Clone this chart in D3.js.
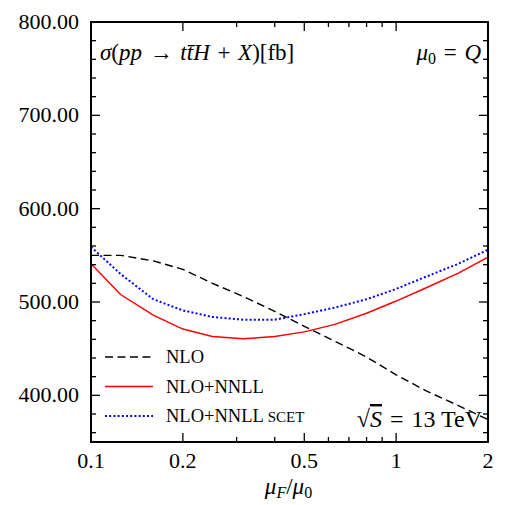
<!doctype html>
<html>
<head>
<meta charset="utf-8"/>
<title>ttH scale dependence</title>
<script src="https://d3js.org/d3.v7.min.js"></script>
<style>
body { margin:0; background:#fff; }
svg text { font-family: "Liberation Serif", serif; fill:#000; }
</style>
</head>
<body>
<script>
// mu_F / mu_0 sampled points
var muF = [0.1, 0.125, 0.16, 0.2, 0.25, 0.315, 0.4, 0.5, 0.63, 0.8, 1.0, 1.25, 1.6, 2.0];
var nlo       = [550, 550, 544, 535, 520, 506, 490, 474, 458, 441, 422, 405, 389, 374];
var nloNnll   = [541, 508, 486, 471, 463, 460.5, 463, 468, 476, 488, 501, 515, 531, 548];
var nnllScet  = [559, 530, 503, 491, 484, 481, 481, 487, 494, 503, 514, 527, 541, 556];

var xMajor = [0.1, 0.2, 0.5, 1, 2];
var xMinor = [0.3, 0.4, 0.6, 0.7, 0.8, 0.9];
var xLabels = ["0.1", "0.2", "0.5", "1", "2"];
var yMajor = [400, 500, 600, 700, 800];
var yMinor = d3.range(360, 800, 20).filter(function(v){ return v % 100 != 0; });

var W = 519, H = 505;
var m = {l:91, r:31, t:22, b:63};
var pw = W - m.l - m.r, ph = H - m.t - m.b;

var svg = d3.select("body").append("svg")
    .attr("width", W).attr("height", H);

var x = d3.scaleLog().domain([0.1, 2]).range([0, pw]);
var y = d3.scaleLinear().domain([350, 800]).range([ph, 0]);

var g = svg.append("g").attr("transform", "translate(" + m.l + "," + m.t + ")");

g.append("clipPath").attr("id", "clip")
  .append("rect").attr("width", pw).attr("height", ph);

// curves
var series = [
  {name:"NLO", vals:nlo, color:"#000", dash:"8,4.5", w:1.4},
  {name:"NLO+NNLL", vals:nloNnll, color:"#ff0000", dash:null, w:1.5},
  {name:"NLO+NNLL SCET", vals:nnllScet, color:"#0000ff", dash:"2,2.2", w:2}
];

var line = d3.line()
   .x(function(d){ return x(d[0]); })
   .y(function(d){ return y(d[1]); });

series.forEach(function(s){
  g.append("path")
    .attr("d", line(d3.zip(muF, s.vals)))
    .attr("fill", "none")
    .attr("stroke", s.color)
    .attr("stroke-width", s.w)
    .attr("stroke-dasharray", s.dash)
    .attr("clip-path", "url(#clip)");
});

// frame
g.append("rect").attr("width", pw).attr("height", ph)
  .attr("fill", "none").attr("stroke", "#000").attr("stroke-width", 2);

// ticks (inward, all four sides)
function xt(vals, len){
  vals.forEach(function(v){
    var px = x(v);
    g.append("line").attr("x1", px).attr("x2", px).attr("y1", ph).attr("y2", ph - len)
      .attr("stroke", "#000").attr("stroke-width", 1.3);
    g.append("line").attr("x1", px).attr("x2", px).attr("y1", 0).attr("y2", len)
      .attr("stroke", "#000").attr("stroke-width", 1.3);
  });
}
function yt(vals, len){
  vals.forEach(function(v){
    var py = y(v);
    g.append("line").attr("x1", 0).attr("x2", len).attr("y1", py).attr("y2", py)
      .attr("stroke", "#000").attr("stroke-width", 1.3);
    g.append("line").attr("x1", pw).attr("x2", pw - len).attr("y1", py).attr("y2", py)
      .attr("stroke", "#000").attr("stroke-width", 1.3);
  });
}
xt(xMajor, 9); xt(xMinor, 5);
yt(yMajor, 9); yt(yMinor, 5);

// tick labels
xMajor.forEach(function(v, i){
  g.append("text").attr("x", x(v)).attr("y", ph + 26)
    .attr("text-anchor", "middle").attr("font-size", 22).text(xLabels[i]);
});
yMajor.forEach(function(v){
  g.append("text").attr("x", -12).attr("y", y(v) + 7)
    .attr("text-anchor", "end").attr("font-size", 22).text(d3.format(".2f")(v));
});

// x axis label  mu_F / mu_0
var xl = svg.append("text").attr("x", m.l + pw/2 - 1).attr("y", 494)
  .attr("text-anchor", "middle").attr("font-size", 23);
xl.append("tspan").attr("font-style", "italic").text("μ");
xl.append("tspan").attr("font-style", "italic").attr("font-size", 16).attr("dy", 4).text("F");
xl.append("tspan").attr("dy", -4).text("/");
xl.append("tspan").attr("font-style", "italic").text("μ");
xl.append("tspan").attr("font-size", 16).attr("dy", 4).text("0");

// process label
var sp = " \u200a";
var t1 = g.append("text").attr("x", 9).attr("y", 38).attr("font-size", 23);
[["σ",1],["(",0],["pp",1],[sp + "→" + sp,0],["t",1],["t\u0304",1],["H",1],[sp + "+" + sp,0],["X",1],[")[fb]",0]]
  .forEach(function(p){
    t1.append("tspan").attr("font-style", p[1] ? "italic" : "normal").text(p[0]);
  });

// mu_0 = Q
var t2 = g.append("text").attr("x", pw - 7).attr("y", 38)
  .attr("text-anchor", "end").attr("font-size", 23);
t2.append("tspan").attr("font-style", "italic").text("μ");
t2.append("tspan").attr("font-size", 16).attr("dy", 4).text("0");
t2.append("tspan").attr("dy", -4).text(sp + "=" + sp);
t2.append("tspan").attr("font-style", "italic").text("Q");

// sqrt(S) = 13 TeV
var t3 = g.append("text").attr("x", pw - 6).attr("y", 405)
  .attr("text-anchor", "end").attr("font-size", 24);
t3.append("tspan").text("√");
t3.append("tspan").attr("font-style", "italic")
  .style("text-decoration", "overline").text("S");
t3.append("tspan").text(sp + "=" + sp + "13 TeV");

// legend
var leg = g.append("g").attr("transform", "translate(14,335)");
series.forEach(function(s, i){
  var yy = i * 29.5;
  leg.append("line").attr("x1", 0).attr("x2", 48).attr("y1", yy).attr("y2", yy)
    .attr("stroke", s.color).attr("stroke-width", s.w)
    .attr("stroke-dasharray", s.dash);
  var tx = leg.append("text").attr("x", 61).attr("y", yy + 6).attr("font-size", 18.5);
  if (s.name.indexOf("SCET") > 0) {
    tx.append("tspan").text("NLO+NNLL ");
    tx.append("tspan").attr("font-size", 15).text("SCET");
  } else {
    tx.text(s.name);
  }
});
</script>
</body>
</html>
